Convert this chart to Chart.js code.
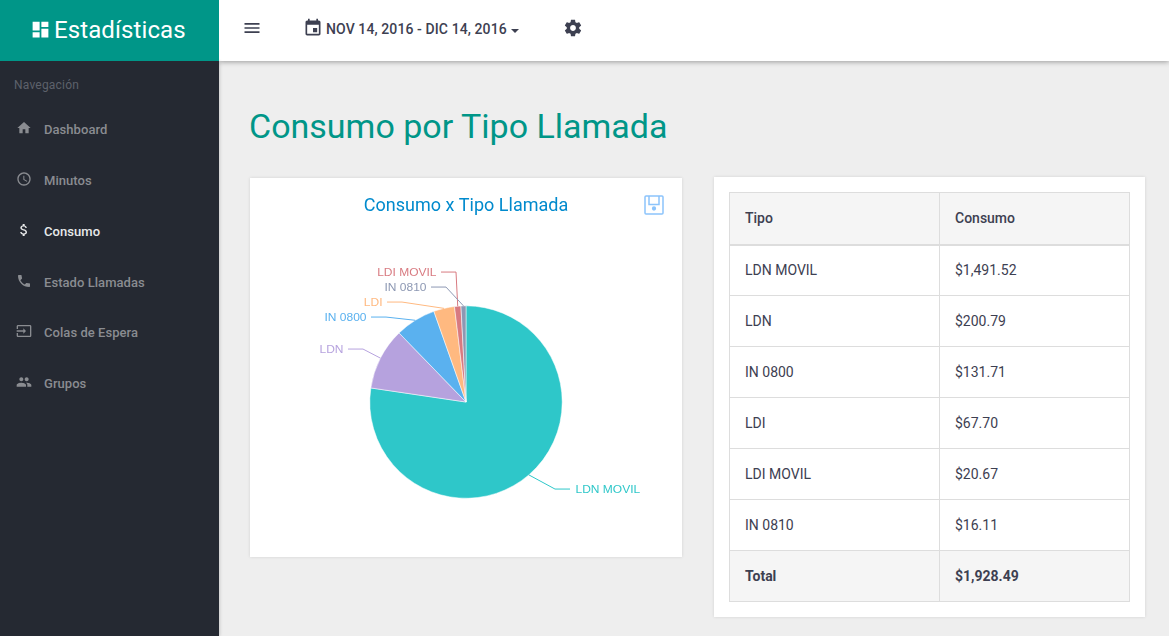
<!DOCTYPE html>
<html lang="es">
<head>
<meta charset="utf-8">
<title>Consumo por Tipo Llamada</title>
<script src="https://cdn.jsdelivr.net/npm/chart.js@4"></script>
<style>
  html, body { margin: 0; height: 100%; overflow: hidden; background: #eee; font-family: Roboto, sans-serif; color: #3d4051; }
  svg { display: block; fill: currentColor; }
  .abs { position: absolute; }
  #brand { left: 0; top: 0; width: 219px; height: 61px; background: #009688; color: #fff; font-size: 24px; line-height: 60px; letter-spacing: .1px; z-index: 3; }
  #brand span { position: absolute; left: 54px; }
  #sidebar { left: 0; top: 61px; bottom: 0; width: 219px; background: #252932; box-shadow: 1px 0 3px rgba(0,0,0,.15); z-index: 2; }
  #topbar { left: 219px; right: 0; top: 0; height: 61px; background: #fff; box-shadow: 0 1px 5px rgba(0,0,0,.35); z-index: 1; }
  .nav-head { position: absolute; left: 14px; top: 17px; font-size: 12px; color: #5d616b; letter-spacing: .2px; }
  .nav-item { position: absolute; left: 0; width: 219px; height: 20px; color: #8a8c91; font-size: 13px; font-weight: 500; line-height: 20px; }
  .nav-item.on { color: #e8e9ea; }
  .nav-item svg { position: absolute; left: 16px; top: 1px; width: 16px; height: 16px; }
  .nav-item span { position: absolute; left: 44px; top: 1px; white-space: nowrap; letter-spacing: .05px; }
  #range { left: 107px; top: 19px; font-size: 14px; font-weight: 500; letter-spacing: .1px; line-height: 20px; white-space: nowrap; }
  #caret { left: 292px; top: 29px; width: 0; height: 0; border-left: 4px solid transparent; border-right: 4px solid transparent; border-top: 4px solid #3d4051; }
  h1 { position: absolute; left: 249px; top: 105px; margin: 0; font-size: 34px; font-weight: 400; line-height: 42px; color: #009688; white-space: nowrap; }
  .card { background: #fff; box-shadow: 0 0 3px rgba(0,0,0,.12); }
  #chartCard { left: 250px; top: 178px; width: 432px; height: 379px; }
  #tableCard { left: 714px; top: 177px; width: 431px; height: 440px; }
  canvas { position: absolute; left: 0; top: 0; }
  #save { left: 394px; top: 17px; width: 20px; height: 20px; fill: none; stroke: #8cc4fb; stroke-width: 1.5; }
  table { position: absolute; left: 15px; top: 15px; width: 401px; border-collapse: collapse; font-size: 14px; table-layout: fixed; }
  th, td { border: 1px solid #ddd; padding: 0 15px; height: 51px; text-align: left; font-weight: 400; box-sizing: border-box; }
  th { font-weight: 500; }
  thead th { background: #f5f5f5; height: 52px; border-bottom-width: 2px; }
  tfoot td { background: #f5f5f5; font-weight: 700; }
</style>
</head>
<body>
<div id="brand" class="abs">
  <svg class="abs" style="left:30px;top:19px;width:21px;height:21px" viewBox="0 0 24 24"><path d="M3 13h8V3H3v10zm0 8h8v-6H3v6zm10 0h8V11h-8v10zm0-18v6h8V3h-8z"/></svg>
  <span>Estadísticas</span>
</div>
<div id="sidebar" class="abs">
  <div class="nav-head">Navegación</div>
  <div class="nav-item" style="top:58px"><svg viewBox="0 0 24 24"><path d="M10 20v-6h4v6h5v-8h3L12 3 2 12h3v8z"/></svg><span>Dashboard</span></div>
  <div class="nav-item" style="top:109px"><svg viewBox="0 0 24 24"><path d="M11.99 2C6.47 2 2 6.48 2 12s4.47 10 9.99 10C17.52 22 22 17.52 22 12S17.52 2 11.99 2zM12 20c-4.42 0-8-3.58-8-8s3.58-8 8-8 8 3.58 8 8-3.58 8-8 8zm.5-13H11v6l5.25 3.15.75-1.23-4.5-2.67z"/></svg><span>Minutos</span></div>
  <div class="nav-item on" style="top:160px"><svg viewBox="0 0 24 24"><path d="M11.8 10.9c-2.27-.59-3-1.2-3-2.15 0-1.09 1.01-1.85 2.7-1.85 1.78 0 2.44.85 2.5 2.1h2.21c-.07-1.72-1.12-3.3-3.21-3.81V3h-3v2.16c-1.94.42-3.5 1.68-3.5 3.61 0 2.31 1.91 3.46 4.7 4.13 2.5.6 3 1.48 3 2.41 0 .69-.49 1.79-2.7 1.79-2.06 0-2.87-.92-2.98-2.1h-2.2c.12 2.19 1.76 3.42 3.68 3.83V21h3v-2.15c1.95-.37 3.5-1.5 3.5-3.55 0-2.84-2.43-3.81-4.7-4.4z"/></svg><span>Consumo</span></div>
  <div class="nav-item" style="top:211px"><svg viewBox="0 0 24 24"><path d="M6.62 10.79c1.44 2.83 3.76 5.14 6.59 6.59l2.2-2.2c.27-.27.67-.36 1.02-.24 1.12.37 2.33.57 3.57.57.55 0 1 .45 1 1V20c0 .55-.45 1-1 1-9.39 0-17-7.61-17-17 0-.55.45-1 1-1h3.5c.55 0 1 .45 1 1 0 1.25.2 2.45.57 3.57.11.35.03.74-.25 1.02l-2.2 2.2z"/></svg><span>Estado Llamadas</span></div>
  <div class="nav-item" style="top:261px"><svg viewBox="0 0 24 24"><path d="M21 3.01H3c-1.1 0-2 .9-2 2V9h2V4.99h18v14.03H3V15H1v4.01c0 1.1.9 1.98 2 1.98h18c1.1 0 2-.88 2-1.98v-14c0-1.11-.9-2-2-2zM11 16l4-4-4-4v3H1v2h10v3z"/></svg><span>Colas de Espera</span></div>
  <div class="nav-item" style="top:312px"><svg viewBox="0 0 24 24"><path d="M16 11c1.66 0 2.99-1.34 2.99-3S17.66 5 16 5c-1.66 0-3 1.34-3 3s1.34 3 3 3zm-8 0c1.66 0 2.99-1.34 2.99-3S9.66 5 8 5C6.34 5 5 6.34 5 8s1.34 3 3 3zm0 2c-2.33 0-7 1.17-7 3.5V19h14v-2.5c0-2.33-4.67-3.5-7-3.5zm8 0c-.29 0-.62.02-.97.05 1.16.84 1.97 1.97 1.97 3.45V19h6v-2.5c0-2.33-4.67-3.5-7-3.5z"/></svg><span>Grupos</span></div>
</div>
<div id="topbar" class="abs">
  <svg class="abs" style="left:23px;top:18px;width:20px;height:20px" viewBox="0 0 24 24"><path d="M3 18h18v-2H3v2zm0-5h18v-2H3v2zm0-7v2h18V6H3z"/></svg>
  <svg class="abs" style="left:84px;top:18px;width:20px;height:20px" viewBox="0 0 24 24"><path d="M17 12h-5v5h5v-5zM16 1v2H8V1H6v2H5c-1.11 0-1.99.9-1.99 2L3 19c0 1.1.89 2 2 2h14c1.1 0 2-.9 2-2V5c0-1.1-.9-2-2-2h-1V1h-2zm3 18H5V8h14v11z"/></svg>
  <div id="range" class="abs">NOV 14, 2016 - DIC 14, 2016</div>
  <div id="caret" class="abs"></div>
  <svg class="abs" style="left:344px;top:18px;width:20px;height:20px" viewBox="0 0 24 24"><path d="M19.43 12.98c.04-.32.07-.64.07-.98s-.03-.66-.07-.98l2.11-1.65c.19-.15.24-.42.12-.64l-2-3.46c-.12-.22-.39-.3-.61-.22l-2.49 1c-.52-.4-1.08-.73-1.69-.98l-.38-2.65C14.46 2.18 14.25 2 14 2h-4c-.25 0-.46.18-.49.42l-.38 2.65c-.61.25-1.17.59-1.69.98l-2.49-1c-.23-.09-.49 0-.61.22l-2 3.46c-.13.22-.07.49.12.64l2.11 1.65c-.04.32-.07.65-.07.98s.03.66.07.98l-2.11 1.65c-.19.15-.24.42-.12.64l2 3.46c.12.22.39.3.61.22l2.49-1c.52.4 1.08.73 1.69.98l.38 2.65c.03.24.24.42.49.42h4c.25 0 .46-.18.49-.42l.38-2.65c.61-.25 1.17-.59 1.69-.98l2.49 1c.23.09.49 0 .61-.22l2-3.46c.12-.22.07-.49-.12-.64l-2.11-1.65zM12 15.5c-1.93 0-3.5-1.57-3.5-3.5s1.57-3.5 3.5-3.5 3.5 1.57 3.5 3.5-1.57 3.5-3.5 3.5z"/></svg>
</div>
<h1>Consumo por Tipo Llamada</h1>
<div id="chartCard" class="abs card">
  <canvas id="pieChart" width="432" height="379"></canvas>
  <svg id="save" class="abs" viewBox="0 0 20 20"><path d="M2 1h16a1 1 0 0 1 1 1v16a1 1 0 0 1-1 1H2a1 1 0 0 1-1-1V2a1 1 0 0 1 1-1z"/><path d="M5 1v8.5h10V1"/><circle cx="10" cy="13.5" r="1.4" fill="#8cc4fb"/></svg>
</div>
<div id="tableCard" class="abs card">
  <table>
    <colgroup><col style="width:210px"><col></colgroup>
    <thead><tr><th>Tipo</th><th>Consumo</th></tr></thead>
    <tbody id="rows"></tbody>
    <tfoot><tr><td>Total</td><td id="total"></td></tr></tfoot>
  </table>
</div>
<script>
const tipos = ["LDN MOVIL", "LDN", "IN 0800", "LDI", "LDI MOVIL", "IN 0810"];
const consumo = [1491.52, 200.79, 131.71, 67.7, 20.67, 16.11];
const totalConsumo = 1928.49;
const colores = ["#2ec7c9", "#b6a2de", "#5ab1ef", "#ffb980", "#d87a80", "#8d98b3"];
// where each label's leader line bends, relative to the pie centre
const bends = [[89, 87], [-103, -53], [-80, -85], [-64, -100], [-10, -130], [-20, -115]];

const money = (v) => "$" + v.toLocaleString("en-US", { minimumFractionDigits: 2, maximumFractionDigits: 2 });

document.getElementById("rows").innerHTML = tipos
  .map((t, i) => `<tr><td>${t}</td><td>${money(consumo[i])}</td></tr>`)
  .join("");
document.getElementById("total").textContent = money(totalConsumo);

const leaderLabels = {
  id: "leaderLabels",
  afterDatasetsDraw(chart) {
    const { ctx } = chart;
    ctx.save();
    ctx.font = "11px 'Liberation Sans'";
    ctx.textBaseline = "middle";
    ctx.lineWidth = 1;
    chart.getDatasetMeta(0).data.forEach((arc, i) => {
      const { x, y, outerRadius, startAngle, endAngle } = arc.getProps(["x", "y", "outerRadius", "startAngle", "endAngle"], true);
      const mid = (startAngle + endAngle) / 2;
      const bx = x + bends[i][0];
      const by = y + bends[i][1];
      const side = bends[i][0] >= 0 ? 1 : -1;
      ctx.strokeStyle = colores[i];
      ctx.fillStyle = colores[i];
      ctx.beginPath();
      ctx.moveTo(x + outerRadius * Math.cos(mid), y + outerRadius * Math.sin(mid));
      ctx.lineTo(bx, by);
      ctx.lineTo(bx + side * 15, by);
      ctx.stroke();
      // the labels in the original are slightly stretched sideways
      ctx.save();
      ctx.translate(bx + side * 20 + 0.5, by + 0.5);
      ctx.scale(1.09, 1);
      ctx.textAlign = side > 0 ? "left" : "right";
      ctx.fillText(tipos[i], 0, 0);
      ctx.restore();
    });
    ctx.restore();
  },
};

new Chart(document.getElementById("pieChart").getContext("2d"), {
  type: "pie",
  data: {
    labels: tipos,
    datasets: [{ data: consumo, backgroundColor: colores, borderColor: "#fff", borderWidth: 0.5 }],
  },
  plugins: [leaderLabels],
  options: {
    responsive: false,
    animation: false,
    // only the height limits the pie, so the title keeps the whole canvas width
    layout: { padding: { bottom: 58.5 } },
    plugins: {
      legend: { display: false },
      tooltip: { enabled: false },
      title: {
        display: true,
        text: "Consumo x Tipo Llamada",
        color: "#008acd",
        font: { family: "Roboto", size: 18, weight: "normal" },
        padding: { top: 18, bottom: 88 },
      },
    },
  },
});
</script>
</body>
</html>
